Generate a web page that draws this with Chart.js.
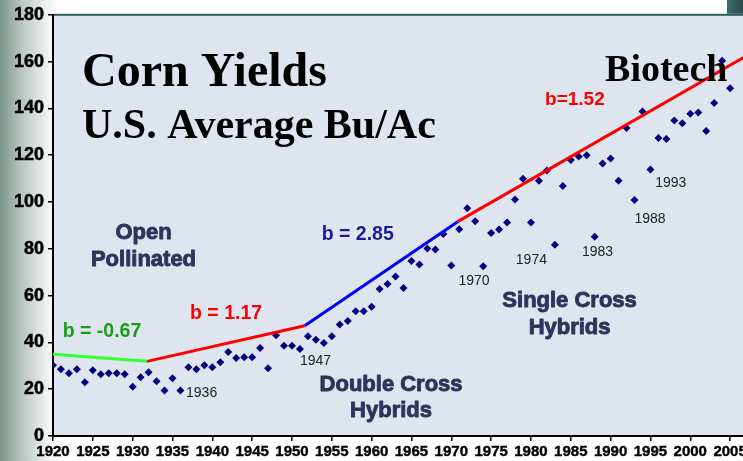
<!DOCTYPE html>
<html>
<head>
<meta charset="utf-8">
<script src="https://cdn.jsdelivr.net/npm/chart.js@4/dist/chart.umd.min.js"></script>
<style>
html,body{margin:0;padding:0;background:#fff;overflow:hidden;width:743px;height:461px;}
#wrap{position:absolute;left:0;top:0;width:760px;height:461px;}
</style>
</head>
<body>
<div id="wrap"><canvas id="c" width="760" height="461"></canvas></div>
<script>
// ---- data ----
const years = [];
for (let y = 1920; y <= 2005; y++) years.push(y);
const yields = [
  30.2, 28.5, 26.8, 28.5, 23.0, 28.1, 26.4, 26.8, 26.8, 26.4,
  21.1, 25.1, 27.2, 23.4, 19.4, 24.7, 19.4, 29.4, 28.5, 30.2,
  29.4, 31.5, 35.9, 33.3, 33.7, 33.7, 37.6, 28.9, 43.1, 38.6,
  38.6, 37.2, 42.6, 41.1, 39.7, 42.6, 47.7, 49.1, 53.3, 53.3,
  55.2, 62.8, 65.0, 68.2, 63.3, 74.8, 73.3, 80.1, 79.7, 86.3,
  72.9, 88.4, 97.3, 91.8, 72.5, 86.8, 88.2, 91.2, 101.1, 109.9,
  91.2, 109.1, 113.5, 81.7, 106.8, 118.0, 119.4, 120.0, 85.1, 116.5,
  118.6, 109.1, 131.6, 100.9, 138.7, 113.9, 127.4, 126.9, 134.8, 133.7,
  137.7, 138.2, 130.3, 142.3, 160.4, 148.6
];
// trend segments: [startYear, startValue, endYear, endValue]
const trendOpen = [1920, 34.9, 1931.8, 31.9];
const trendEarlyHybrid = [1931.8, 31.9, 1951.6, 47.1];
const trendDoubleCross = [1951.6, 47.1, 1970.8, 91.6];
const trendSingleCross = [1970.8, 91.6, 2008, 164.3];
const yTicks = [0, 20, 40, 60, 80, 100, 120, 140, 160, 180];
const xTickStep = 5;

// text annotations (data coordinates)
const SERIF = '"Liberation Serif", "Times New Roman", serif';
const SANS = '"Liberation Sans", Arial, sans-serif';
const annotations = [
  {t:'Corn Yields', x:1923.64, y:149.4, font:'bold 48px '+SERIF, color:'#000', align:'left'},
  {t:'U.S. Average Bu/Ac', x:1923.64, y:127.4, font:'bold 42px '+SERIF, color:'#000', align:'left'},
  {t:'Biotech', x:1989.3, y:151.5, font:'bold 38px '+SERIF, color:'#000', align:'left'},
  {t:'b=1.52', x:1981.77, y:141.3, font:'bold 19px '+SANS, color:'#ff0000', align:'left'},
  {t:'b = 2.85', x:1953.73, y:83.7, font:'bold 19.5px '+SANS, color:'#1c1c94', align:'left'},
  {t:'b = 1.17', x:1937.2, y:49.8, font:'bold 19.5px '+SANS, color:'#ff0000', align:'left'},
  {t:'b = -0.67', x:1921.22, y:42.1, font:'bold 19.5px '+SANS, color:'#1a9e1a', align:'left'},
  {t:'Open', x:1931.36, y:84.1, font:'bold 22px '+SANS, color:'#31315c', align:'center', stroke:0.9},
  {t:'Pollinated', x:1931.36, y:72.8, font:'bold 22px '+SANS, color:'#31315c', align:'center', stroke:0.9},
  {t:'Double Cross', x:1962.44, y:19.3, font:'bold 22px '+SANS, color:'#31315c', align:'center', stroke:0.9},
  {t:'Hybrids', x:1962.44, y:8.0, font:'bold 22px '+SANS, color:'#31315c', align:'center', stroke:0.9},
  {t:'Single Cross', x:1984.85, y:55.0, font:'bold 22px '+SANS, color:'#31315c', align:'center', stroke:0.9},
  {t:'Hybrids', x:1984.85, y:43.7, font:'bold 22px '+SANS, color:'#31315c', align:'center', stroke:0.9},
  {t:'1936', x:1936.7, y:16.7, font:'14px '+SANS, color:'#222', align:'left'},
  {t:'1947', x:1951.0, y:30.2, font:'14px '+SANS, color:'#222', align:'left'},
  {t:'1970', x:1970.9, y:64.7, font:'14px '+SANS, color:'#222', align:'left'},
  {t:'1974', x:1978.1, y:73.5, font:'14px '+SANS, color:'#222', align:'left'},
  {t:'1983', x:1986.4, y:77.0, font:'14px '+SANS, color:'#222', align:'left'},
  {t:'1988', x:1993.0, y:91.2, font:'14px '+SANS, color:'#222', align:'left'},
  {t:'1993', x:1995.6, y:106.4, font:'14px '+SANS, color:'#222', align:'left'}
];

const seg = s => [{x:s[0], y:s[1]}, {x:s[2], y:s[3]}];
const lineDs = (s, color) => ({data: seg(s), showLine:true, borderColor:color, borderWidth:3, pointRadius:0, fill:false});

const bgPlugin = {
  id:'bg',
  beforeDraw(chart){
    const ctx = chart.ctx, a = chart.chartArea, W = chart.width, H = chart.height;
    ctx.save();
    ctx.fillStyle = '#ffffff';
    ctx.fillRect(0,0,W,H);
    const g = ctx.createLinearGradient(0,0,62,0);
    g.addColorStop(0,'#7d958b');
    g.addColorStop(0.35,'#b9c7c1');
    g.addColorStop(0.75,'#eef1f0');
    g.addColorStop(1,'#ffffff');
    ctx.fillStyle = g;
    ctx.fillRect(0,0,62,H);
    ctx.fillStyle = '#dfe5ee';
    ctx.fillRect(a.left,a.top,a.right-a.left,a.bottom-a.top);
    ctx.fillStyle = '#2f5d66';
    ctx.fillRect(a.left,a.top-1,W-a.left,2);
    const g2 = ctx.createLinearGradient(727,0,743,0);
    g2.addColorStop(0,'#3c6a66');
    g2.addColorStop(1,'#2a4f4c');
    ctx.fillStyle = g2;
    ctx.fillRect(727,0,W-727,a.top-1);
    ctx.restore();
  }
};
const textPlugin = {
  id:'texts',
  afterDatasetsDraw(chart){
    const ctx = chart.ctx, xs = chart.scales.x, ys = chart.scales.y;
    ctx.save();
    ctx.textBaseline = 'alphabetic';
    ctx.lineJoin = 'round';
    annotations.forEach(a => {
      ctx.font = a.font;
      ctx.fillStyle = a.color;
      ctx.textAlign = a.align;
      const px = xs.getPixelForValue(a.x), py = ys.getPixelForValue(a.y);
      if (a.stroke) {
        ctx.strokeStyle = a.color;
        ctx.lineWidth = a.stroke;
        ctx.strokeText(a.t, px, py);
      }
      ctx.fillText(a.t, px, py);
    });
    ctx.restore();
  }
};

new Chart(document.getElementById('c'), {
  type:'scatter',
  data:{
    datasets:[
      lineDs(trendOpen,'#33ff33'),
      lineDs(trendEarlyHybrid,'#ff0000'),
      lineDs(trendDoubleCross,'#0000ff'),
      lineDs(trendSingleCross,'#ff0000'),
      {
        data: years.map((y,i)=>({x:y, y:yields[i]})),
        pointStyle:'rectRot', pointRadius:4, pointBackgroundColor:'#000080',
        pointBorderWidth:0, showLine:false
      }
    ]
  },
  options:{
    responsive:false,
    animation:false,
    layout:{padding:{top:13,right:6,left:0,bottom:0}},
    plugins:{legend:{display:false},tooltip:{enabled:false}},
    scales:{
      x:{
        type:'linear', min:1920, max:2008,
        afterFit(s){ s.height = 25; },
        ticks:{stepSize:xTickStep, includeBounds:false, color:'#000', padding:2, maxRotation:0, autoSkip:false,
               textStrokeColor:'#000', textStrokeWidth:0.4,
               font:{family:SANS, size:15, weight:'bold'},
               callback:v=>String(v)},
        grid:{drawOnChartArea:false, tickLength:5, color:'#000', lineWidth:1.5},
        border:{display:true, color:'#000', width:2}
      },
      y:{
        type:'linear', min:0, max:180,
        afterFit(s){ s.width = 53; },
        afterBuildTicks(s){ s.ticks = yTicks.map(v=>({value:v})); },
        ticks:{color:'#000', padding:4, textStrokeColor:'#000', textStrokeWidth:0.5,
               font:{family:SANS, size:18, weight:'bold'}},
        grid:{drawOnChartArea:false, tickLength:5, color:'#000', lineWidth:1.5},
        border:{display:true, color:'#000', width:2}
      }
    }
  },
  plugins:[bgPlugin, textPlugin]
});
</script>
</body>
</html>
